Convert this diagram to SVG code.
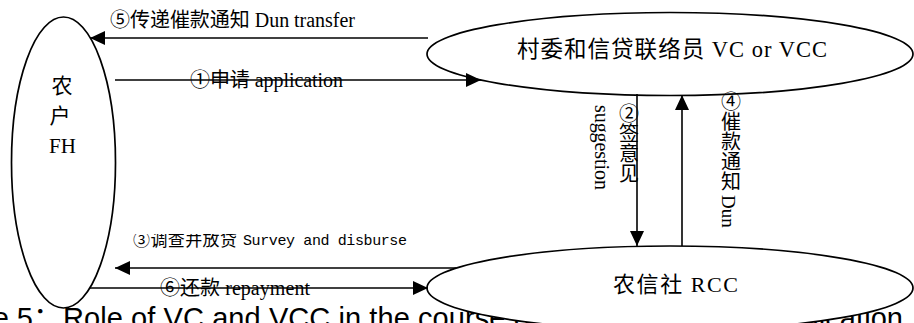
<svg xmlns="http://www.w3.org/2000/svg" width="914" height="323" viewBox="0 0 914 323">
<defs>
<marker id="ah" markerUnits="userSpaceOnUse" markerWidth="15" markerHeight="14" refX="15" refY="7" orient="auto"><path d="M0,0 L15,7 L0,14 z" fill="#000"/></marker>
<clipPath id="clip3"><rect x="100" y="234" width="330" height="20"/></clipPath>
</defs>
<style>
.node ellipse{fill:#fff;stroke:#000;stroke-width:1.7}
.lbl{font-family:"Liberation Serif","Noto Sans CJK SC",serif;fill:#000}
.mono{font-family:"Liberation Mono","Noto Sans CJK SC",monospace;fill:#000}
.cap{font-family:"Liberation Sans","Noto Sans CJK SC",sans-serif;font-size:29px;fill:#000}
.conn line{stroke:#000;stroke-width:1.6}
</style>
<rect width="914" height="323" fill="#fff"/>
<g id="caption">
<text class="cap" x="62" y="328" text-anchor="end">Figure 5：</text>
<text class="cap" x="63" y="328" textLength="840" lengthAdjust="spacing">Role of VC and VCC in the course of rural microcredit application</text>
</g>
<g id="FH" class="node">
<ellipse cx="63.5" cy="162.5" rx="52" ry="145.5"/>
<text class="lbl" font-size="21" text-anchor="middle"><tspan x="62" y="93">农</tspan><tspan x="60" y="123">户</tspan><tspan x="62.5" y="153">FH</tspan></text>
</g>
<g id="VC" class="node">
<ellipse cx="670" cy="54" rx="243" ry="41.5"/>
<text class="lbl" x="672" y="57" font-size="22.5" text-anchor="middle" textLength="310">村委和信贷联络员 VC or VCC</text>
</g>
<g id="RCC" class="node">
<ellipse cx="670" cy="288" rx="243" ry="42"/>
<text class="lbl" x="675.5" y="292" font-size="22" text-anchor="middle" textLength="125">农信社 RCC</text>
</g>
<g id="connectors" class="conn">
<line x1="428" y1="38" x2="90" y2="38" marker-end="url(#ah)"/>
<line x1="115" y1="80" x2="481" y2="80" marker-end="url(#ah)"/>
<line x1="456" y1="268" x2="115" y2="268" marker-end="url(#ah)"/>
<line x1="90" y1="288" x2="428" y2="288" marker-end="url(#ah)"/>
<line x1="637" y1="94" x2="637" y2="246" marker-end="url(#ah)"/>
<line x1="682" y1="246" x2="682" y2="95" marker-end="url(#ah)"/>
</g>
<g id="labels">
<text class="lbl" x="110" y="27" font-size="20" textLength="245">⑤传递催款通知 Dun transfer</text>
<text class="lbl" x="190" y="87" font-size="20" textLength="153">①申请 application</text>
<g clip-path="url(#clip3)">
<text class="lbl" x="133" y="246" font-size="17" textLength="104">③调查并放贷</text>
<text class="mono" x="243" y="245" font-size="15" textLength="164">Survey and disburse</text>
</g>
<text class="lbl" x="160" y="295" font-size="20" textLength="150">⑥还款 repayment</text>
<text class="lbl" font-size="20" text-anchor="middle"><tspan x="629" y="121">②</tspan><tspan x="629" y="141">签</tspan><tspan x="629" y="161">意</tspan><tspan x="629" y="181">见</tspan></text>
<text class="lbl" font-size="20" transform="translate(595,105) rotate(90)" textLength="85">suggestion</text>
<text class="lbl" font-size="20" text-anchor="middle"><tspan x="731" y="109">④</tspan><tspan x="731" y="129">催</tspan><tspan x="731" y="149">款</tspan><tspan x="731" y="169">通</tspan><tspan x="731" y="189">知</tspan></text>
<text class="lbl" font-size="19" transform="translate(722,195) rotate(90)">Dun</text>
</g>
</svg>
